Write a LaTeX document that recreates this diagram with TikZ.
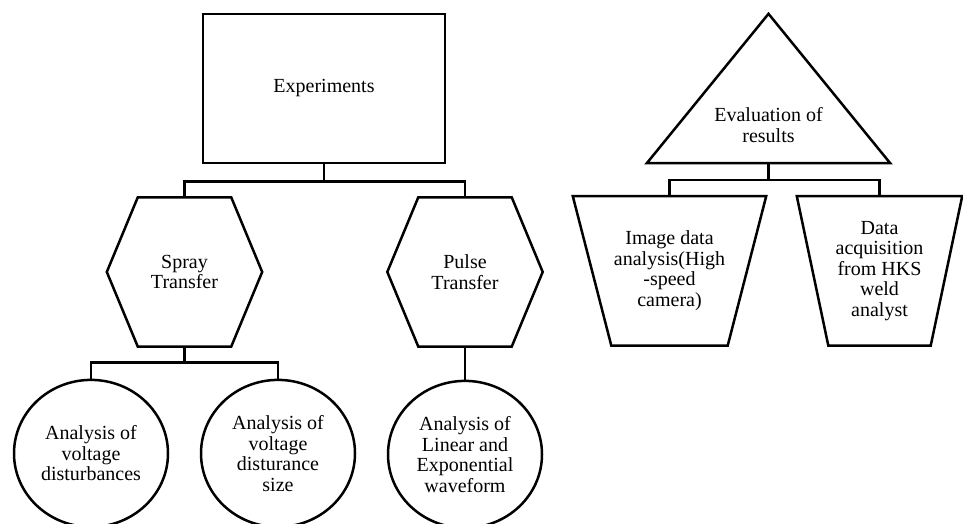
\documentclass[tikz,border=0pt]{standalone}
\usepackage{fontspec}
\setmainfont{Liberation Serif}
\usetikzlibrary{shapes.geometric, positioning}
\tikzset{
  outline/.style={draw=black, line width=2.5pt},
  link/.style={draw=black, line width=2.5pt},
  rectbox/.style={outline, minimum width=242pt, minimum height=149pt},
  hexbox/.style={minimum width=155pt, minimum height=149pt,
    append after command={\pgfextra{\draw[outline] ([xshift=31pt]\tikzlastnode.north west) -- ([xshift=-31pt]\tikzlastnode.north east) -- (\tikzlastnode.east) -- ([xshift=-31pt]\tikzlastnode.south east) -- ([xshift=31pt]\tikzlastnode.south west) -- (\tikzlastnode.west) -- cycle;}}},
  trapbox/.style={minimum height=149pt,
    append after command={\pgfextra{\draw[outline] (\tikzlastnode.north west) -- (\tikzlastnode.north east) -- ([xshift=-#1]\tikzlastnode.south east) -- ([xshift=#1]\tikzlastnode.south west) -- cycle;}}},
  tribox/.style={minimum width=243pt, minimum height=76pt,
    append after command={\pgfextra{\draw[outline] (\tikzlastnode.south west) -- ([yshift=73pt]\tikzlastnode.north) -- (\tikzlastnode.south east) -- cycle;}}},
  ovalbox/.style={ellipse, outline, minimum width=154pt, minimum height=147pt}
}

\begin{document}
\begin{tikzpicture}[
        every node/.style={align=center, inner sep=0pt, font=\fontsize{20}{20.5}\selectfont}
    ]
        \useasboundingbox (0,0) rectangle (963pt,-523pt);

        % --- Arbol izquierdo: experimentos ---
        \node (exp) [rectbox] at (324pt,-88.5pt) {Experiments};
        \node (spray) [hexbox, below=33pt of exp, xshift=-139.5pt] {Spray\\Transfer};
        \node (pulse) [hexbox, below=33pt of exp, xshift=141pt] {Pulse\\Transfer};
        \node (dist) [ovalbox, below=32pt of spray, xshift=-93.5pt] {Analysis of\\voltage\\disturbances};
        \node (distsize) [ovalbox, below=32pt of spray, xshift=93.5pt] {Analysis of\\voltage\\disturance\\size};
        \node (wave) [ovalbox, below=33pt of pulse] {Analysis of\\Linear and\\Exponential\\waveform};

        % --- Arbol derecho: evaluacion ---
        \node (eval) [tribox] at (768.5pt,-125pt) {Evaluation of\\results};
        \node (image) [trapbox=38.5pt, minimum width=193pt, below=33pt of eval, xshift=-99pt] {Image data\\analysis(High\\-speed\\camera)};
        \node (hks) [trapbox=31.5pt, minimum width=165pt, below=33pt of eval, xshift=111pt] {Data\\acquisition\\from HKS\\weld\\analyst};

        % --- Conexiones ---
        \draw [link] (exp.south) -- ++(0,-17pt) -| (spray.north);
        \draw [link] (exp.south) -- ++(0,-17pt) -| (pulse.north);
        \draw [link] (spray.south) -- ++(0,-16pt) -| (dist.north);
        \draw [link] (spray.south) -- ++(0,-16pt) -| (distsize.north);
        \draw [link] (pulse.south) -- (wave.north);
        \draw [link] (eval.south) -- ++(0,-17pt) -| (image.north);
        \draw [link] (eval.south) -- ++(0,-17pt) -| (hks.north);

    \end{tikzpicture}
\end{document}
